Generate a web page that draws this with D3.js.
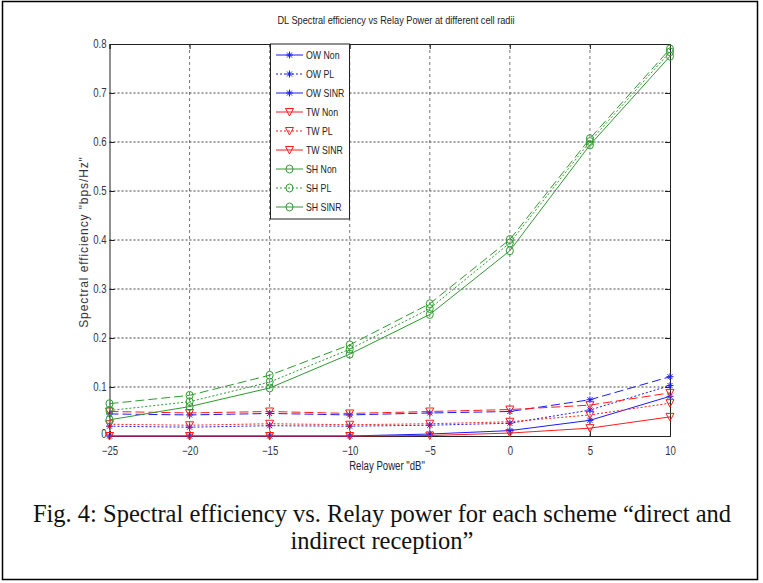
<!DOCTYPE html>
<html><head><meta charset="utf-8">
<script src="https://cdn.jsdelivr.net/npm/d3@7"></script>
<style>body{margin:0;background:#fff}</style>
</head><body><svg id="c" width="763" height="583"></svg>
<script>
const relayPower = [-25, -20, -15, -10, -5, 0, 5, 10];
const xTicks = [-25, -20, -15, -10, -5, 0, 5, 10];
const yTicks = [0, 0.1, 0.2, 0.3, 0.4, 0.5, 0.6, 0.7, 0.8];
const seriesNames = ["OW Non","OW PL","OW SINR","TW Non","TW PL","TW SINR","SH Non","SH PL","SH SINR"];
const owNon  = [0, 0, 0, 0, 0.004, 0.011, 0.032, 0.081];
const owPL   = [0.02, 0.018, 0.021, 0.02, 0.022, 0.026, 0.053, 0.103];
const owSINR = [0.045, 0.043, 0.046, 0.043, 0.047, 0.05, 0.074, 0.121];
const twNon  = [0, 0, 0, 0, 0.001, 0.006, 0.016, 0.039];
const twPL   = [0.024, 0.022, 0.025, 0.023, 0.025, 0.029, 0.043, 0.067];
const twSINR = [0.05, 0.047, 0.05, 0.046, 0.05, 0.054, 0.063, 0.088];
const shNon  = [0.033, 0.06, 0.098, 0.167, 0.248, 0.378, 0.594, 0.775];
const shPL   = [0.052, 0.07, 0.11, 0.177, 0.26, 0.394, 0.601, 0.784];
const shSINR = [0.066, 0.083, 0.124, 0.186, 0.27, 0.401, 0.607, 0.79];
const seriesValues = [owNon, owPL, owSINR, twNon, twPL, twSINR, shNon, shPL, shSINR];

const svg = d3.select("#c");
const sans = "'Liberation Sans',Arial,sans-serif";
function condense(sel, f){
  sel.each(function(){
    const w = this.getComputedTextLength();
    if (w > 0) d3.select(this).attr("textLength", w*f).attr("lengthAdjust","spacingAndGlyphs");
  });
}
svg.append("rect").attr("x",2.5).attr("y",1.5).attr("width",755).attr("height",578)
  .attr("fill","none").attr("stroke","#000").attr("stroke-width",1.5);

const L=109.5, R=670, T=44, B=436;
const x = d3.scaleLinear().domain([-25,10]).range([L,R]);
const y = d3.scaleLinear().domain([0,0.8]).range([B,T]);

const colors = {OW:"#1a1aff", TW:"#ff1a1a", SH:"#2f9a2f"};
const dashes = {Non:null, PL:"2,2", SINR:"9,4"};

const g = svg.append("g");
g.selectAll(".vg").data(xTicks.slice(1,-1)).join("line")
  .attr("x1",d=>x(d)).attr("x2",d=>x(d)).attr("y1",T).attr("y2",B)
  .attr("stroke","#777").attr("stroke-dasharray","3,3").attr("stroke-width",1);
g.selectAll(".hg").data(yTicks.slice(1,-1)).join("line")
  .attr("x1",L).attr("x2",R).attr("y1",d=>y(d)).attr("y2",d=>y(d))
  .attr("stroke","#444").attr("stroke-dasharray","2,2").attr("stroke-width",1);

const xa = svg.append("g").attr("transform",`translate(0,${B})`)
  .call(d3.axisBottom(x).tickValues(xTicks).tickSize(-5).tickPadding(10).tickFormat(d3.format("d")));
const ya = svg.append("g").attr("transform",`translate(${L},0)`)
  .call(d3.axisLeft(y).tickValues(yTicks).tickSize(-5).tickPadding(3).tickFormat(d=>d===0?"0":d3.format(".1f")(d)));
ya.selectAll(".tick").filter(d=>d===0).select("text").attr("dy","0.1em");
svg.append("g").attr("transform",`translate(0,${T})`)
  .call(d3.axisTop(x).tickValues(xTicks).tickSize(-5).tickFormat(""));
svg.append("g").attr("transform",`translate(${R},0)`)
  .call(d3.axisRight(y).tickValues(yTicks).tickSize(-5).tickFormat(""));
svg.selectAll(".domain").attr("stroke","#222");
svg.selectAll(".tick line").attr("stroke","#222");
svg.selectAll(".tick text").attr("font-family",sans).attr("font-size",12).attr("fill","#334");
condense(svg.selectAll(".tick text"), 0.8);

const line = d3.line().x((d,i)=>x(relayPower[i])).y(d=>y(d));
function drawMarker(sel, kind, color){
  if(kind==="OW"){
    sel.append("path").attr("d","M-3.5,0H3.5M0,-3.5V3.5M-2.5,-2.5L2.5,2.5M-2.5,2.5L2.5,-2.5")
      .attr("stroke",color).attr("stroke-width",1).attr("fill","none");
  } else if(kind==="TW"){
    sel.append("path").attr("d","M-4,-3.5L4,-3.5L0,4Z").attr("stroke",color).attr("fill","none").attr("stroke-width",1);
  } else {
    sel.append("ellipse").attr("rx",3.5).attr("ry",4).attr("stroke",color).attr("fill","none").attr("stroke-width",1);
  }
}
seriesNames.forEach((name,k)=>{
  const [kind,type] = name.split(" ");
  const col = colors[kind];
  const vals = seriesValues[k];
  svg.append("path").datum(vals).attr("d",line).attr("fill","none")
    .attr("stroke",col).attr("stroke-width",1).attr("stroke-dasharray",dashes[type]);
  vals.forEach((v,i)=>{
    const m = svg.append("g").attr("transform",`translate(${x(relayPower[i])},${y(v)})`);
    drawMarker(m,kind,col);
  });
});

const lg = svg.append("g");
lg.append("rect").attr("x",270.5).attr("y",T).attr("width",79).attr("height",175)
  .attr("fill","#fff").attr("stroke","#222").attr("stroke-width",1);
seriesNames.forEach((name,k)=>{
  const [kind,type] = name.split(" ");
  const col = colors[kind];
  const yy = 55 + k*19;
  lg.append("line").attr("x1",276).attr("x2",303).attr("y1",yy).attr("y2",yy)
    .attr("stroke",col).attr("stroke-width",1).attr("stroke-dasharray",type==="PL"?"2,2":null);
  drawMarker(lg.append("g").attr("transform",`translate(289.5,${yy})`),kind,col);
  lg.append("text").attr("x",306).attr("y",yy+4).text(name)
    .attr("font-family",sans).attr("font-size",11.5).attr("fill","#222");
});
condense(lg.selectAll("text"), 0.76);

const title = svg.append("text").attr("x",396).attr("y",24).attr("text-anchor","middle")
  .attr("font-family",sans).attr("font-size",11.5).attr("fill","#222")
  .text("DL Spectral efficiency vs Relay Power at different cell radii");
const xl = svg.append("text").attr("x",387).attr("y",470).attr("text-anchor","middle")
  .attr("font-family",sans).attr("font-size",12).attr("fill","#223")
  .text("Relay Power \"dB\"");
condense(title, 0.8);
condense(xl, 0.8);
svg.append("text").attr("transform","translate(88,242) rotate(-90)").attr("text-anchor","middle")
  .attr("font-family",sans).attr("font-size",12).attr("fill","#334").attr("letter-spacing",0.9)
  .text("Spectral efficiency \"bps/Hz\"");
const cap = svg.append("text").attr("text-anchor","middle")
  .attr("font-family","'Liberation Serif','Times New Roman',serif").attr("font-size",24.5).attr("fill","#111");
cap.append("tspan").attr("x",382).attr("y",522).text("Fig. 4: Spectral efficiency vs. Relay power for each scheme \u201cdirect and");
cap.append("tspan").attr("x",382).attr("y",549).text("indirect reception\u201d");
</script></body></html>
